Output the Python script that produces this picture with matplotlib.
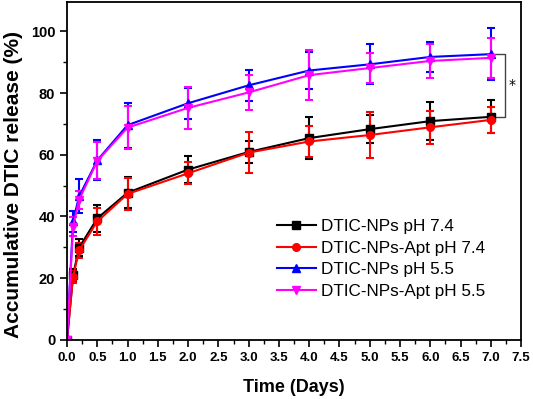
import numpy as np
import matplotlib
matplotlib.use("Agg")
import matplotlib.pyplot as plt
from matplotlib.lines import Line2D
from matplotlib.ticker import MultipleLocator

# time points (days)
days = [0, 0.1, 0.2, 0.5, 1, 2, 3, 4, 5, 6, 7]

nps_74 = [0, 21.0, 29.9, 39.4, 47.7, 55.2, 60.9, 65.4, 68.3, 70.9, 72.3]
nps_74_err = [0, 2.0, 2.7, 4.3, 5.0, 4.5, 3.5, 6.7, 4.5, 6.2, 5.3]
apt_74 = [0, 20.5, 29.0, 38.4, 47.3, 54.0, 60.7, 64.3, 66.4, 68.9, 71.3]
apt_74_err = [0, 2.0, 2.5, 4.3, 5.3, 3.6, 6.6, 5.0, 7.5, 5.3, 4.3]
nps_55 = [0, 38.4, 46.5, 58.2, 69.6, 76.7, 82.5, 87.3, 89.3, 91.7, 92.6]
nps_55_err = [0, 3.5, 5.5, 6.5, 7.3, 5.0, 5.0, 6.0, 6.5, 5.0, 8.5]
apt_55 = [0, 36.7, 45.4, 58.0, 68.8, 75.2, 80.2, 85.8, 88.1, 90.4, 91.4]
apt_55_err = [0, 3.0, 3.0, 6.0, 7.0, 6.7, 5.6, 8.0, 5.0, 5.5, 6.5]

series = [
    ("DTIC-NPs pH 7.4", nps_74, nps_74_err, "black", "s"),
    ("DTIC-NPs-Apt pH 7.4", apt_74, apt_74_err, "red", "o"),
    ("DTIC-NPs pH 5.5", nps_55, nps_55_err, "blue", "^"),
    ("DTIC-NPs-Apt pH 5.5", apt_55, apt_55_err, "magenta", "v"),
]

fig = plt.figure(figsize=(5.33, 3.99), dpi=100)
ax = fig.add_axes([0.1257, 0.148, 0.852, 0.847])

handles = []
for label, vals, err, col, mk in series:
    ax.errorbar(days, vals, yerr=err, color=col, marker=mk, markersize=5.5,
                linewidth=1.5, elinewidth=1.5, capsize=3, capthick=1.5)
    handles.append(Line2D([], [], color=col, marker=mk, markersize=5.5,
                          linewidth=1.5, label=label))

# significance bracket between pH 5.5 and pH 7.4 at day 7
bx = 7.24
y_hi = nps_55[-1]
y_lo = nps_74[-1]
ax.plot([7.05, bx, bx, 7.05], [y_hi, y_hi, y_lo, y_lo], color="#444444",
        linewidth=1.0)
ax.text(bx + 0.06, (y_hi + y_lo) / 2, "*", fontsize=10, va="center",
        ha="left")

ax.set_xlim(0, 7.5)
ax.set_ylim(0, 109.5)
ax.xaxis.set_major_locator(MultipleLocator(0.5))
ax.xaxis.set_minor_locator(MultipleLocator(0.25))
ax.yaxis.set_major_locator(MultipleLocator(20))
ax.yaxis.set_minor_locator(MultipleLocator(10))
ax.tick_params(which="major", direction="out", length=5, width=1.2)
ax.tick_params(which="minor", direction="out", length=3, width=1.0)
for s in ax.spines.values():
    s.set_linewidth(1.3)

for t in ax.get_xticklabels():
    t.set_fontfamily("Liberation Sans")
    t.set_fontweight("bold")
    t.set_fontsize(9.5)
for t in ax.get_yticklabels():
    t.set_fontfamily("Liberation Sans")
    t.set_fontweight("bold")
    t.set_fontsize(10.5)

ax.set_xlabel("Time (Days)", fontsize=13, fontweight="bold",
              fontfamily="Liberation Sans", labelpad=11)
ax.set_ylabel("Accumulative DTIC release (%)", fontsize=15,
              fontweight="bold", fontfamily="Liberation Sans")
ax.yaxis.set_label_coords(-0.097, 0.46)

ax.legend(handles=handles, loc="upper left", bbox_to_anchor=(0.462, 0.357),
          frameon=False, prop={"family": "Liberation Sans", "size": 12.3},
          handlelength=2.3, handletextpad=0.3, labelspacing=0.38,
          borderpad=0, borderaxespad=0)

fig.savefig("out.png", dpi=100)
